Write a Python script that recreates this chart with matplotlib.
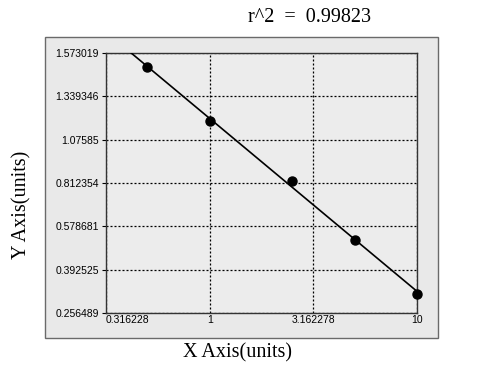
import numpy as np
import matplotlib
matplotlib.use("Agg")
import matplotlib.pyplot as plt
from matplotlib.patches import Rectangle

# standard curve data
x_vals = [0.5, 1.0, 2.5, 5.0, 10.0]
y_vals = [1.495, 1.1905, 0.8263, 0.5204, 0.3166]

x_ticks = [0.316228, 1, 3.162278, 10]
x_tick_labels = ["0.316228", "1", "3.162278", "10"]
y_ticks = [0.256489, 0.392525, 0.578681, 0.812354, 1.07585, 1.339346, 1.573019]
y_tick_labels = ["0.256489", "0.392525", "0.578681", "0.812354", "1.07585", "1.339346", "1.573019"]
r2_text = "r^2  =  0.99823"

idx = np.arange(len(y_ticks), dtype=float)
yt = np.array(y_ticks)


def fwd(y):
    # piecewise linear onto evenly spaced tick positions, extrapolate at ends
    y = np.asarray(y, dtype=float)
    u = np.interp(y, yt, idx)
    lo = y < yt[0]
    hi = y > yt[-1]
    u = np.where(lo, (y - yt[0]) / (yt[1] - yt[0]), u)
    u = np.where(hi, idx[-1] + (y - yt[-1]) / (yt[-1] - yt[-2]), u)
    return u


def inv(u):
    u = np.asarray(u, dtype=float)
    y = np.interp(u, idx, yt)
    y = np.where(u < 0, yt[0] + u * (yt[1] - yt[0]), y)
    y = np.where(u > idx[-1], yt[-1] + (u - idx[-1]) * (yt[-1] - yt[-2]), y)
    return y


fig = plt.figure(figsize=(4.85, 3.65), dpi=100)
fig.patch.set_facecolor("white")

# grey panel behind the plot
panel = Rectangle((45 / 485, 1 - 338 / 365), 393 / 485, 301 / 365,
                  transform=fig.transFigure, facecolor="#e9e9e9",
                  edgecolor="#6a6a6a", linewidth=1.0, zorder=-5)
fig.patches.append(panel)

ax = fig.add_axes([106 / 485, 1 - 313 / 365, 311 / 485, 260 / 365])
ax.set_zorder(2)
ax.set_facecolor("#ececec")
ax.set_xscale("log")
ax.set_yscale("function", functions=(fwd, inv))
ax.set_xlim(x_ticks[0], x_ticks[-1])
ax.set_ylim(y_ticks[0], y_ticks[-1])

# fit in (log x, tick-index) space
lx = np.log10(x_vals)
uy = fwd(y_vals)
slope, icpt = np.polyfit(lx, uy, 1)
lx_top = (idx[-1] - icpt) / slope
xs = np.logspace(lx_top, np.log10(x_ticks[-1]), 200)
ax.plot(xs, inv(slope * np.log10(xs) + icpt), color="black", lw=1.2, zorder=3)
ax.plot(x_vals, y_vals, "o", color="black", ms=6.5, zorder=4, clip_on=False)

ax.grid(True, color="black", linestyle=(0, (1.6, 1.6)), linewidth=0.9)
ax.set_axisbelow(True)

ax.set_xticks(x_ticks)
ax.set_xticklabels(x_tick_labels)
ax.minorticks_off()
ax.set_yticks(y_ticks)
ax.set_yticklabels(y_tick_labels)
ax.get_xticklabels()[0].set_horizontalalignment("left")
ax.tick_params(axis="both", labelsize=7.5, length=3, width=0.8, colors="black", pad=2)
ax.tick_params(axis="x", length=0, pad=1.5)
for lab in ax.get_xticklabels() + ax.get_yticklabels():
    lab.set_fontfamily("Liberation Sans")

for s in ax.spines.values():
    s.set_color("#333333")
    s.set_linewidth(1.0)

fig.text(310 / 485, 1 - 17 / 365, r2_text, family="Liberation Serif",
         fontsize=14.5, ha="center", va="center")
fig.text(238 / 485, 1 - 353 / 365, "X Axis(units)", family="Liberation Serif",
         fontsize=14.5, ha="center", va="center")
fig.text(22 / 485, 1 - 205 / 365, "Y Axis(units)", family="Liberation Serif",
         fontsize=14.5, ha="center", va="center", rotation=90)

fig.savefig("out.png", dpi=100)
